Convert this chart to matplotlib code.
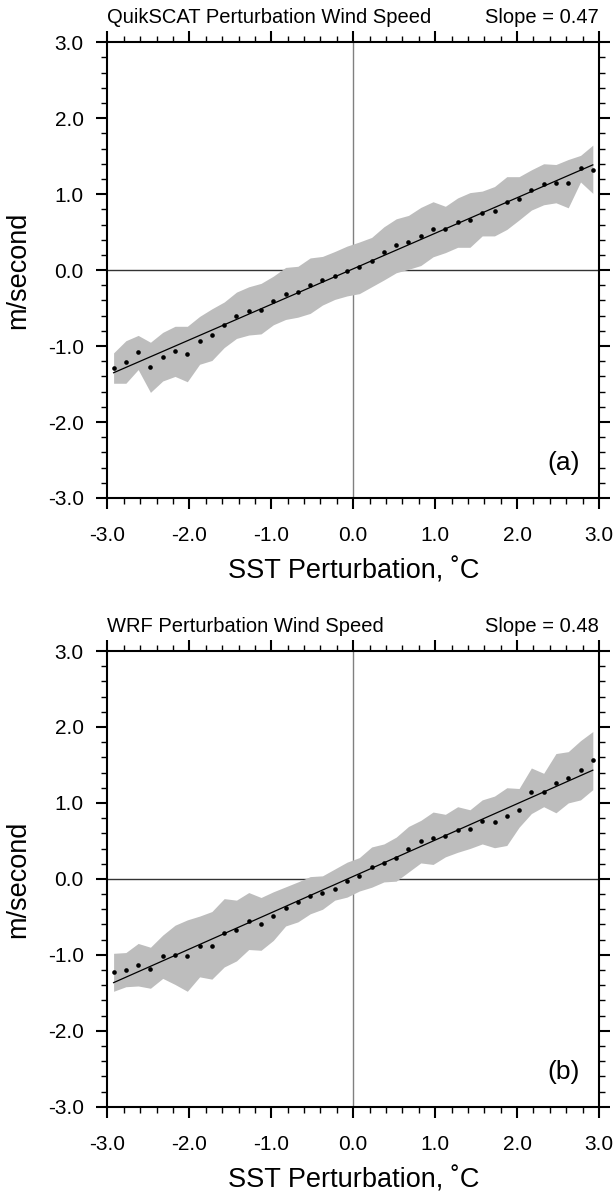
import matplotlib
matplotlib.use("Agg")
import matplotlib.pyplot as plt
import numpy as np
from matplotlib.ticker import MultipleLocator, FormatStrFormatter

plt.rcParams['font.family'] = ['Liberation Sans', 'DejaVu Sans']

# SST perturbation bin centres (deg C)
sst_bins = [-2.925, -2.775, -2.625, -2.475, -2.325, -2.175, -2.025, -1.875,
            -1.725, -1.575, -1.425, -1.275, -1.125, -0.975, -0.825, -0.675,
            -0.525, -0.375, -0.225, -0.075, 0.075, 0.225, 0.375, 0.525,
            0.675, 0.825, 0.975, 1.125, 1.275, 1.425, 1.575, 1.725,
            1.875, 2.025, 2.175, 2.325, 2.475, 2.625, 2.775, 2.925]

# (a) QuikSCAT
qs_mean = [-1.29, -1.21, -1.08, -1.27, -1.14, -1.07, -1.10, -0.93,
           -0.86, -0.72, -0.60, -0.54, -0.52, -0.41, -0.31, -0.29,
           -0.20, -0.13, -0.075, -0.01, 0.04, 0.12, 0.24, 0.33,
           0.37, 0.45, 0.54, 0.535, 0.63, 0.66, 0.75, 0.78,
           0.89, 0.94, 1.05, 1.14, 1.15, 1.145, 1.35, 1.32]
qs_upper = [-1.09, -0.93, -0.86, -0.95, -0.82, -0.74, -0.74, -0.61,
            -0.51, -0.42, -0.29, -0.22, -0.175, -0.08, 0.035, 0.05,
            0.16, 0.18, 0.245, 0.316, 0.37, 0.43, 0.57, 0.675,
            0.72, 0.825, 0.90, 0.84, 0.95, 1.02, 1.04, 1.10,
            1.23, 1.23, 1.32, 1.40, 1.39, 1.456, 1.51, 1.645]
qs_lower = [-1.49, -1.49, -1.31, -1.61, -1.46, -1.40, -1.47, -1.24,
            -1.19, -1.02, -0.90, -0.855, -0.84, -0.72, -0.65, -0.62,
            -0.57, -0.46, -0.386, -0.34, -0.31, -0.22, -0.13, -0.035,
            0.01, 0.06, 0.175, 0.23, 0.30, 0.30, 0.45, 0.45,
            0.535, 0.66, 0.79, 0.86, 0.886, 0.82, 1.16, 1.01]

# (b) WRF
wrf_mean = [-1.23, -1.20, -1.13, -1.18, -1.02, -1.00, -1.01, -0.886,
            -0.88, -0.71, -0.67, -0.55, -0.60, -0.49, -0.38, -0.31,
            -0.23, -0.19, -0.127, -0.03, 0.04, 0.15, 0.21, 0.28,
            0.40, 0.50, 0.54, 0.566, 0.645, 0.66, 0.76, 0.75,
            0.83, 0.91, 1.14, 1.15, 1.26, 1.33, 1.44, 1.56]
wrf_upper = [-0.98, -0.97, -0.85, -0.90, -0.74, -0.61, -0.54, -0.49,
             -0.43, -0.26, -0.28, -0.18, -0.245, -0.17, -0.105, -0.04,
             0.03, 0.04, 0.13, 0.22, 0.28, 0.42, 0.46, 0.55,
             0.69, 0.77, 0.88, 0.85, 0.95, 0.91, 1.04, 1.09,
             1.20, 1.19, 1.46, 1.39, 1.65, 1.675, 1.82, 1.94]
wrf_lower = [-1.48, -1.42, -1.41, -1.44, -1.31, -1.39, -1.48, -1.29,
             -1.32, -1.16, -1.08, -0.93, -0.94, -0.81, -0.62, -0.566,
             -0.46, -0.40, -0.28, -0.24, -0.16, -0.11, -0.04, -0.03,
             0.09, 0.21, 0.19, 0.29, 0.35, 0.40, 0.46, 0.41,
             0.44, 0.68, 0.86, 0.95, 0.87, 1.00, 1.04, 1.175]

panels = [
    ("QuikSCAT Perturbation Wind Speed", "Slope = 0.47", "(a)", qs_mean, qs_upper, qs_lower),
    ("WRF Perturbation Wind Speed", "Slope = 0.48", "(b)", wrf_mean, wrf_upper, wrf_lower),
]

fig = plt.figure(figsize=(6.14, 11.93), dpi=100)
ax_rects = [[0.175, 0.5826, 0.8005, 0.382],
            [0.175, 0.0723, 0.8005, 0.382]]

x = np.array(sst_bins)
for rect, (title, slope_txt, tag, mean, upper, lower) in zip(ax_rects, panels):
    ax = fig.add_axes(rect)

    # zero lines under the shading
    ax.axhline(0, color='#333333', lw=1.0, zorder=1)
    ax.axvline(0, color='#808080', lw=1.0, zorder=1)

    ax.fill_between(x, lower, upper, color='#bdbdbd', lw=0, zorder=2)
    ax.scatter(x, mean, s=11, color='black', zorder=4, linewidths=0)

    # least squares fit
    p = np.polyfit(x, mean, 1)
    ax.plot([x[0], x[-1]], np.polyval(p, [x[0], x[-1]]), color='black', lw=0.9, zorder=3)

    ax.set_xlim(-3, 3)
    ax.set_ylim(-3, 3)
    ax.xaxis.set_major_locator(MultipleLocator(1.0))
    ax.yaxis.set_major_locator(MultipleLocator(1.0))
    ax.xaxis.set_minor_locator(MultipleLocator(0.2))
    ax.yaxis.set_minor_locator(MultipleLocator(0.2))
    ax.xaxis.set_major_formatter(FormatStrFormatter('%.1f'))
    ax.yaxis.set_major_formatter(FormatStrFormatter('%.1f'))
    ax.tick_params(which='both', direction='out', top=True, right=True,
                   labeltop=False, labelright=False)
    ax.tick_params(which='major', length=8, width=1.5, labelsize=15)
    ax.tick_params(axis='x', which='major', pad=12)
    ax.tick_params(axis='y', which='major', pad=9)
    ax.tick_params(which='minor', length=4, width=1.0)
    for s in ax.spines.values():
        s.set_linewidth(1.5)

    ax.set_xlabel('SST Perturbation, \u02daC', fontsize=19.5, labelpad=10)
    ax.set_ylabel('m/second', fontsize=19.5)
    ax.yaxis.set_label_coords(-0.155, 0.5)

    ax.annotate(title, xy=(0, 1), xycoords='axes fraction', xytext=(0, 18),
                textcoords='offset points', ha='left', va='center', fontsize=14.5)
    ax.annotate(slope_txt, xy=(1, 1), xycoords='axes fraction', xytext=(0, 18),
                textcoords='offset points', ha='right', va='center', fontsize=14.5)
    ax.annotate(tag, xy=(1, 0), xycoords='axes fraction', xytext=(-14, 25),
                textcoords='offset points', ha='right', va='center', fontsize=19)

fig.savefig('out.png', dpi=100)
